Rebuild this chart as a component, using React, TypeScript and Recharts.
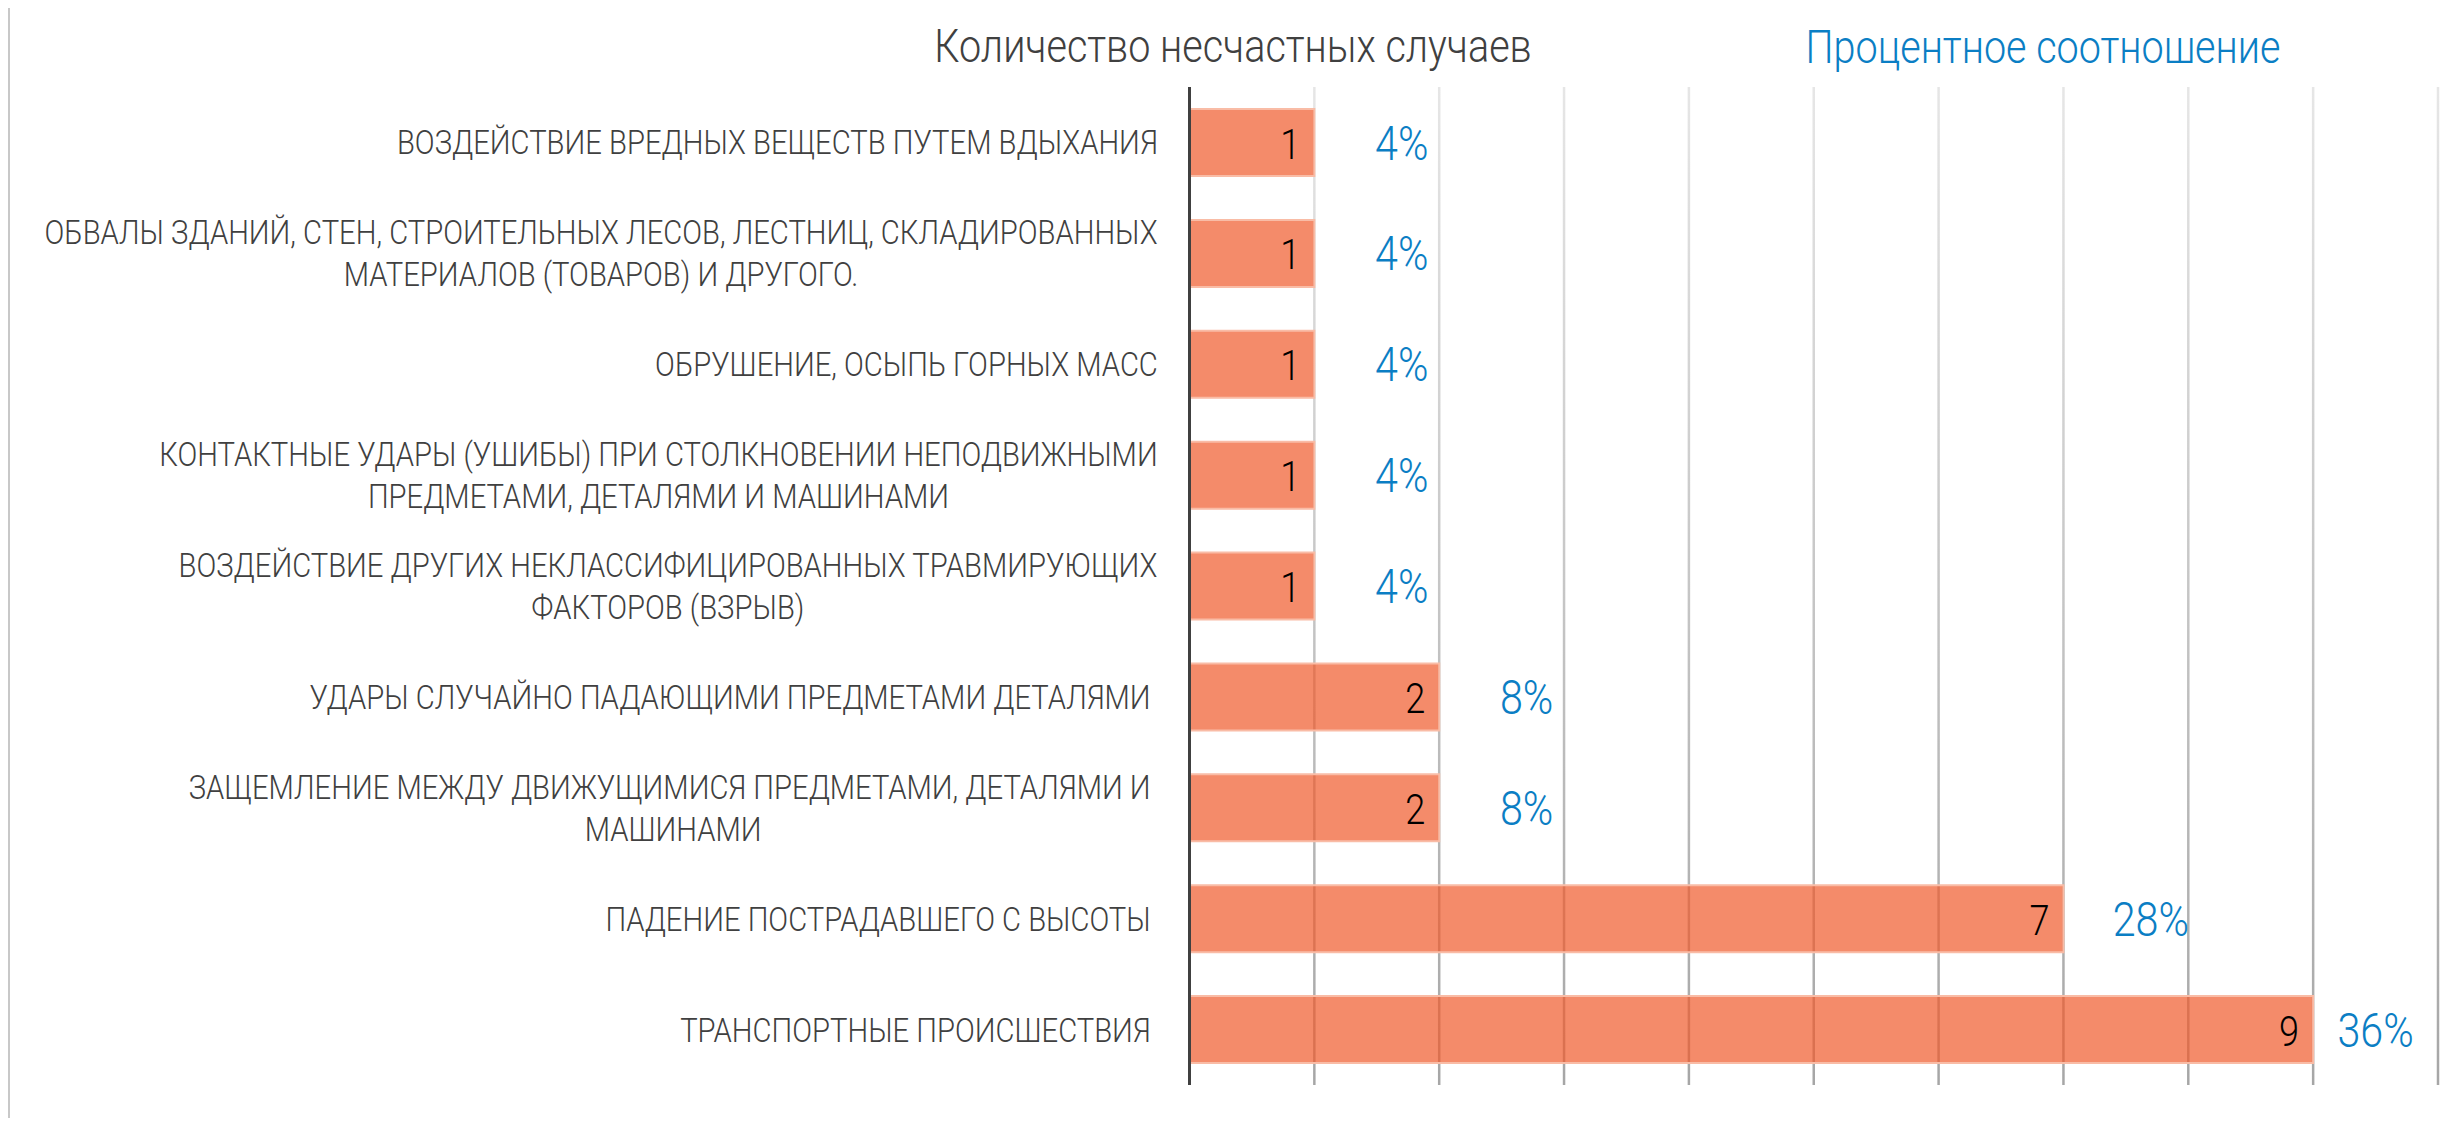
import React from "react";
import { BarChart, Bar, XAxis, YAxis, CartesianGrid, LabelList } from "recharts";

const categories: string[] = [
  "ВОЗДЕЙСТВИЕ ВРЕДНЫХ ВЕЩЕСТВ ПУТЕМ ВДЫХАНИЯ",
  "ОБВАЛЫ ЗДАНИЙ, СТЕН, СТРОИТЕЛЬНЫХ ЛЕСОВ, ЛЕСТНИЦ, СКЛАДИРОВАННЫХ\nМАТЕРИАЛОВ (ТОВАРОВ) И ДРУГОГО.",
  "ОБРУШЕНИЕ, ОСЫПЬ ГОРНЫХ МАСС",
  "КОНТАКТНЫЕ УДАРЫ (УШИБЫ) ПРИ СТОЛКНОВЕНИИ НЕПОДВИЖНЫМИ\nПРЕДМЕТАМИ, ДЕТАЛЯМИ И МАШИНАМИ",
  "ВОЗДЕЙСТВИЕ ДРУГИХ НЕКЛАССИФИЦИРОВАННЫХ ТРАВМИРУЮЩИХ\nФАКТОРОВ (ВЗРЫВ)",
  "УДАРЫ СЛУЧАЙНО ПАДАЮЩИМИ ПРЕДМЕТАМИ ДЕТАЛЯМИ ",
  "ЗАЩЕМЛЕНИЕ МЕЖДУ ДВИЖУЩИМИСЯ ПРЕДМЕТАМИ, ДЕТАЛЯМИ И \nМАШИНАМИ",
  "ПАДЕНИЕ ПОСТРАДАВШЕГО С ВЫСОТЫ ",
  "ТРАНСПОРТНЫЕ ПРОИСШЕСТВИЯ ",
];
const counts: number[] = [1, 1, 1, 1, 1, 2, 2, 7, 9];
const percents: number[] = [4, 4, 4, 4, 4, 8, 8, 28, 36];
const xTicks: number[] = [0, 1, 2, 3, 4, 5, 6, 7, 8, 9, 10];
const countTitle = "Количество несчастных случаев";
const percentTitle = "Процентное соотношение";

const data = categories.map((c, i) => ({ name: c, count: counts[i], pct: percents[i] }));

const W = 2448;
const H = 1110;
const PLOT_LEFT = 1181.5;
const PLOT_TOP = 79;
const PLOT_BOTTOM = 1077;
const X_MAX = 10;

const FONT = "Roboto, 'Open Sans', sans-serif";
const SX = 0.86;
const LABEL_SIZE = 34;
const LABEL_WEIGHT = 300;
const DARK = "#404040";
const BLUE = "#0B7EC4";

let canvasCtx: CanvasRenderingContext2D | null = null;
function measure(text: string, font: string): number {
  if (!canvasCtx) {
    const c = document.createElement("canvas");
    canvasCtx = c.getContext("2d");
  }
  if (!canvasCtx) return text.length * 18;
  canvasCtx.font = font;
  return canvasCtx.measureText(text).width;
}

function CategoryTick(props: any) {
  const { x, y, payload } = props;
  const lines = String(payload.value).split("\n");
  const font = `${LABEL_WEIGHT} ${LABEL_SIZE}px Roboto`;
  const widths = lines.map((l) => measure(l, font) * SX);
  const block = Math.max(...widths);
  const cx = x - block / 2;
  const lh = 42;
  return (
    <g>
      {lines.map((l, i) => (
        <text
          key={i}
          transform={`translate(${cx}, ${y + 12 + (i - (lines.length - 1) / 2) * lh}) scale(${SX},1)`}
          textAnchor="middle"
          fontFamily={FONT}
          fontWeight={LABEL_WEIGHT}
          fontSize={LABEL_SIZE}
          fill={DARK}
          style={{ whiteSpace: "pre" }}
        >
          {l}
        </text>
      ))}
    </g>
  );
}

function getBox(props: any) {
  const vb = props.viewBox || {};
  const x = props.x ?? vb.x;
  const y = props.y ?? vb.y;
  const width = props.width ?? vb.width;
  const height = props.height ?? vb.height;
  return { x: Number(x), y: Number(y), width: Number(width), height: Number(height) };
}

function CountLabel(props: any) {
  const { x, y, width, height } = getBox(props);
  return (
    <text
      transform={`translate(${x + width - 14}, ${y + height / 2 + 16}) scale(${SX},1)`}
      textAnchor="end"
      fontFamily={FONT}
      fontWeight={300}
      fontSize={42}
      fill="#000000"
    >
      {props.value}
    </text>
  );
}

function PercentLabel(props: any) {
  const { x, y, width, height } = getBox(props);
  const idx = props.index;
  const v = counts[idx];
  const unit = width / v;
  const off = Math.min(0.7 * unit, ((X_MAX - v) * unit) / 2);
  return (
    <text
      transform={`translate(${x + width + off}, ${y + height / 2 + 17}) scale(${SX},1)`}
      textAnchor="middle"
      fontFamily={FONT}
      fontWeight={300}
      fontSize={48}
      fill={BLUE}
    >
      {`${props.value}%`}
    </text>
  );
}

export default function App() {
  return (
    <div style={{ position: "relative", width: W, height: H }}>
      <div
        style={{
          position: "absolute",
          left: -1,
          top: -3,
          width: 2455,
          height: 1115,
          boxSizing: "border-box",
          borderTop: "3px solid #c8c8c8",
          borderLeft: "3px solid #c8c8c8",
          borderRight: "3px solid #c8c8c8",
          pointerEvents: "none",
        }}
      />
      <svg width={0} height={0} style={{ position: "absolute" }}>
        <defs>
          <linearGradient id="gridGrad" gradientUnits="userSpaceOnUse" x1={0} y1={PLOT_TOP} x2={0} y2={PLOT_BOTTOM}>
            <stop offset="0%" stopColor="#e6e6e6" />
            <stop offset="100%" stopColor="#a6a6a6" />
          </linearGradient>
        </defs>
      </svg>
      <BarChart
        width={W}
        height={H}
        data={data}
        layout="vertical"
        margin={{ top: PLOT_TOP, right: W - 2430, bottom: H - PLOT_BOTTOM, left: 0 }}
      >
        <CartesianGrid horizontal={false} vertical={true} stroke="url(#gridGrad)" strokeWidth={2.5} />
        <XAxis type="number" domain={[0, X_MAX]} ticks={xTicks} hide />
        <YAxis
          type="category"
          dataKey="name"
          width={PLOT_LEFT}
          tickSize={0}
          tickMargin={31.5}
          tick={<CategoryTick />}
          axisLine={{ stroke: DARK, strokeWidth: 3 }}
          tickLine={false}
          interval={0}
        />
        <Bar
          dataKey="count"
          fill="#EF5A2B"
          fillOpacity={0.7}
          stroke="#F9BCA6"
          strokeWidth={2}
          barSize={67}
          isAnimationActive={false}
        >
          <LabelList dataKey="count" content={<CountLabel />} />
          <LabelList dataKey="pct" content={<PercentLabel />} />
        </Bar>
      </BarChart>
      <svg width={W} height={H} style={{ position: "absolute", left: 0, top: 0, pointerEvents: "none" }}>
        <text
          transform={`translate(1225, 54) scale(${SX},1)`}
          textAnchor="middle"
          fontFamily={FONT}
          fontWeight={300}
          fontSize={46}
          fill={DARK}
        >
          {countTitle}
        </text>
        <text
          transform={`translate(2035, 55) scale(${SX},1)`}
          textAnchor="middle"
          fontFamily={FONT}
          fontWeight={300}
          fontSize={46}
          fill={BLUE}
        >
          {percentTitle}
        </text>
      </svg>
    </div>
  );
}
